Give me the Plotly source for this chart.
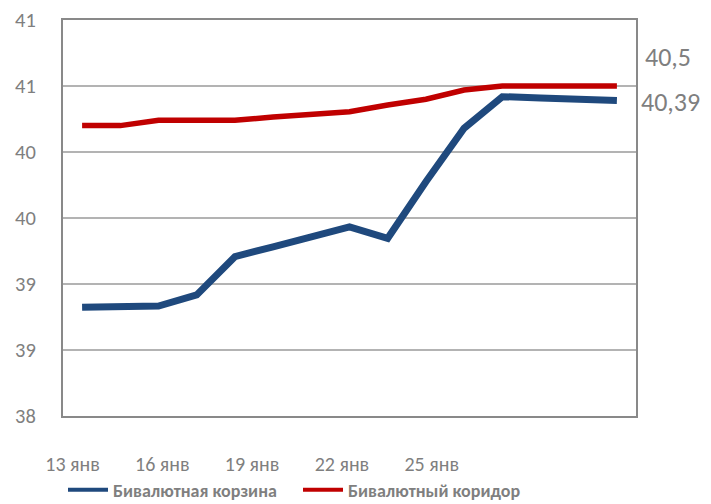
import plotly.graph_objects as go

days = list(range(13, 28))
basket = [38.823, 38.823, 38.833, 38.917, 39.207, 39.282, 39.358, 39.432,
          39.346, 39.775, 40.180, 40.419, 40.410, 40.400, 40.39]
corridor = [40.20, 40.20, 40.24, 40.24, 40.24, 40.265, 40.284, 40.305,
            40.356, 40.40, 40.47, 40.50, 40.50, 40.50, 40.50]
series_names = ["Бивалютная корзина", "Бивалютный коридор"]
series_colors = ["#1F497D", "#C00000"]
x_tick_labels = ["13 янв", "16 янв", "19 янв", "22 янв", "25 янв"]
y_tick_vals = [38, 38.5, 39, 39.5, 40, 40.5, 41]
y_tick_text = ["38", "39", "39", "40", "40", "41", "41"]
end_labels = ["40,5", "40,39"]

FONT = "Carlito, 'Liberation Sans Narrow', 'DejaVu Sans Condensed', 'Liberation Sans', sans-serif"
GRAY = "#7f7f7f"

fig = go.Figure()
fig.add_trace(go.Scatter(x=days, y=basket, mode="lines", name=series_names[0],
                         showlegend=False, line=dict(color=series_colors[0], width=7)))
fig.add_trace(go.Scatter(x=days, y=corridor, mode="lines", name=series_names[1],
                         showlegend=False, line=dict(color=series_colors[1], width=5.5)))
# legend entries (thinner line symbols like the original)
for nm, col in zip(series_names, series_colors):
    fig.add_trace(go.Scatter(x=[None], y=[None], mode="lines", name=nm,
                             line=dict(color=col, width=4)))
fig.add_trace(go.Scatter(x=list(range(len(x_tick_labels))), y=[None]*len(x_tick_labels),
                         xaxis="x2", showlegend=False, hoverinfo="skip", mode="markers"))

fig.update_layout(
    width=703, height=496,
    margin=dict(l=55, r=75, t=12, b=88, autoexpand=False),
    paper_bgcolor="white", plot_bgcolor="white",
    font=dict(family=FONT, color=GRAY),
    xaxis=dict(range=[12.5, 27.5], showgrid=False, showticklabels=False,
               showline=True, linecolor="#898989", linewidth=2, mirror=True,
               zeroline=False, ticks="", automargin=False),
    xaxis2=dict(overlaying="x", side="bottom", range=[-0.106, 6.275],
                tickvals=list(range(len(x_tick_labels))), ticktext=x_tick_labels,
                showgrid=False, showline=False, zeroline=False, ticks="",
                tickfont=dict(size=20, color=GRAY, family=FONT),
                ticklabelstandoff=34, automargin=False, ticklabeloverflow="allow"),
    yaxis=dict(range=[38, 41], tickvals=y_tick_vals, ticktext=y_tick_text,
               showgrid=True, gridcolor="#b3b3b3", gridwidth=1.5,
               showline=True, linecolor="#898989", linewidth=2, mirror=True,
               zeroline=False, ticks="", automargin=False, ticklabeloverflow="allow",
               tickfont=dict(size=20.5, color=GRAY, family=FONT),
               ticklabelstandoff=21),
    legend=dict(orientation="h", x=0.0, xanchor="left", y=-0.187, yanchor="middle",
                bgcolor="rgba(0,0,0,0)",
                font=dict(size=18, color=GRAY, family=FONT, weight="bold"),
                itemwidth=40, tracegroupgap=0, entrywidth=180, entrywidthmode="pixels"),
    showlegend=True,
)

fig.add_annotation(x=1.0, xref="paper", y=corridor[-1], yref="y", yshift=29,
                   text=end_labels[0], showarrow=False, xanchor="left", xshift=7,
                   font=dict(size=26, color=GRAY, family=FONT))
fig.add_annotation(x=1.0, xref="paper", y=basket[-1], yref="y", yshift=-1,
                   text=end_labels[1], showarrow=False, xanchor="left", xshift=3,
                   font=dict(size=26, color=GRAY, family=FONT))

fig.write_html("out.html")
